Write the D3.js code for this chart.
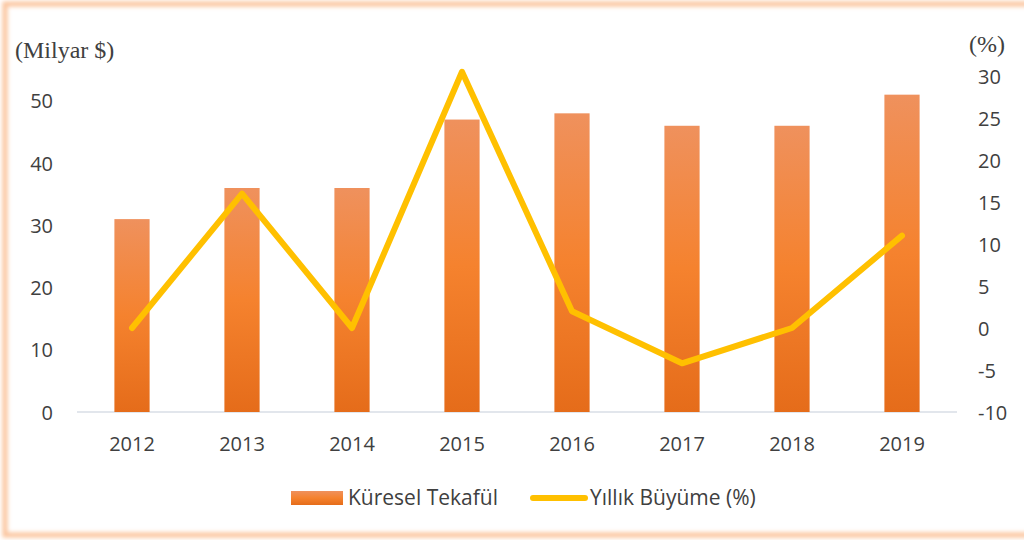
<!DOCTYPE html>
<html>
<head>
<meta charset="utf-8">
<script src="https://cdn.jsdelivr.net/npm/d3@7"></script>
<style>
  html, body { margin: 0; padding: 0; background: #fff; }
  svg { display: block; }
</style>
</head>
<body>
<svg id="chart"></svg>
<script>
// chart data
const years = ['2012', '2013', '2014', '2015', '2016', '2017', '2018', '2019'];
const tekaful = [31, 36, 36, 47, 48, 46, 46, 51];
const growth = [0, 16, 0, 30.5, 2, -4.2, 0, 11];
const leftTicks = [0, 10, 20, 30, 40, 50];
const rightTicks = [-10, -5, 0, 5, 10, 15, 20, 25, 30];
const seriesNames = ['Küresel Tekafül', 'Yıllık Büyüme (%)'];

const W = 1024, H = 540;
const svg = d3.select('#chart').attr('width', W).attr('height', H);

// frame with soft glow
const defs = svg.append('defs');
const blur = defs.append('filter').attr('id', 'glow')
  .attr('x', '-5%').attr('y', '-5%').attr('width', '110%').attr('height', '110%');
blur.append('feGaussianBlur').attr('stdDeviation', 2.2);

const grad = defs.append('linearGradient').attr('id', 'barGrad')
  .attr('x1', 0).attr('y1', 0).attr('x2', 0).attr('y2', 1);
grad.append('stop').attr('offset', '0%').attr('stop-color', '#EF915D');
grad.append('stop').attr('offset', '50%').attr('stop-color', '#F5822E');
grad.append('stop').attr('offset', '100%').attr('stop-color', '#E56C1A');

svg.append('rect')
  .attr('x', 5).attr('y', 4).attr('width', 1040).attr('height', 531)
  .attr('fill', 'none').attr('stroke', '#FBC39B').attr('stroke-width', 5)
  .attr('filter', 'url(#glow)');

const plot = { left: 77, right: 957, top: 76, bottom: 412 };

const x = d3.scaleBand().domain(years).range([plot.left, plot.right]).paddingInner(0.68).paddingOuter(0.34);
const yL = d3.scaleLinear().domain([0, 54]).range([plot.bottom, plot.top]);
const yR = d3.scaleLinear().domain([-10, 30]).range([plot.bottom, plot.top]);

const font = '"Open Sans", "Noto Sans", sans-serif';

// left axis
const axL = svg.append('g').attr('transform', `translate(${plot.left - 24},0)`)
  .call(d3.axisLeft(yL).tickValues(leftTicks).tickSize(0).tickPadding(0));
axL.select('.domain').remove();
axL.selectAll('text').attr('font-family', font).attr('font-size', 20).attr('fill', '#404040')
  .attr('dy', '0.35em');

// right axis
const axR = svg.append('g').attr('transform', `translate(${plot.right + 21},0)`)
  .call(d3.axisRight(yR).tickValues(rightTicks).tickSize(0).tickPadding(0)
    .tickFormat(d => String(d)));
axR.select('.domain').remove();
axR.selectAll('text').attr('font-family', font).attr('font-size', 20).attr('fill', '#404040')
  .attr('dy', '0.35em');

// x axis
const axX = svg.append('g').attr('transform', `translate(0,${plot.bottom})`)
  .call(d3.axisBottom(x).tickSize(0).tickPadding(25));
axX.select('.domain').attr('stroke', '#D9DEE6').attr('stroke-width', 1.5)
  .attr('d', `M${plot.left},0H${plot.right}`);
axX.selectAll('text').attr('font-family', font).attr('font-size', 20).attr('fill', '#404040');

// bars
svg.append('g').selectAll('rect')
  .data(tekaful)
  .join('rect')
  .attr('x', (d, i) => x(years[i]))
  .attr('y', d => yL(d))
  .attr('width', x.bandwidth())
  .attr('height', d => yL(0) - yL(d))
  .attr('fill', 'url(#barGrad)');

// growth line
const line = d3.line()
  .x((d, i) => x(years[i]) + x.bandwidth() / 2)
  .y(d => yR(d));
svg.append('path')
  .datum(growth)
  .attr('d', line)
  .attr('fill', 'none')
  .attr('stroke', '#FFC000')
  .attr('stroke-width', 6)
  .attr('stroke-linecap', 'round')
  .attr('stroke-linejoin', 'round');

// axis titles
svg.append('text').attr('x', 15).attr('y', 58)
  .attr('font-family', '"Liberation Serif", serif').attr('font-size', 24).attr('fill', '#404040')
  .text('(Milyar $)');
svg.append('text').attr('x', 969).attr('y', 52)
  .attr('font-family', '"Liberation Serif", serif').attr('font-size', 24).attr('fill', '#404040')
  .text('(%)');

// legend
const lg = svg.append('g').attr('font-family', font).attr('font-size', 21).attr('fill', '#404040');
lg.append('rect').attr('x', 291).attr('y', 491).attr('width', 52).attr('height', 14).attr('fill', 'url(#barGrad)');
lg.append('text').attr('x', 348).attr('y', 505).text(seriesNames[0]);
lg.append('line').attr('x1', 533).attr('x2', 585).attr('y1', 498).attr('y2', 498)
  .attr('stroke', '#FFC000').attr('stroke-width', 6).attr('stroke-linecap', 'round');
lg.append('text').attr('x', 590).attr('y', 505).text(seriesNames[1]);
</script>
</body>
</html>
